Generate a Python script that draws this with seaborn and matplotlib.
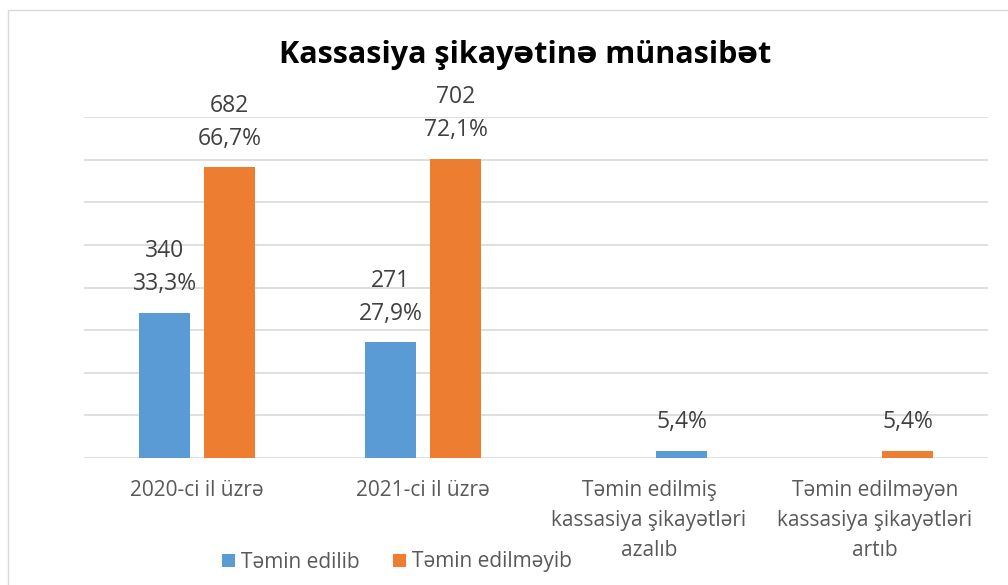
import matplotlib
matplotlib.use("Agg")
import seaborn as sns
import matplotlib.pyplot as plt
import pandas as pd
from matplotlib.patches import Patch, Rectangle

# Kateqoriyalar (x oxu)
categories = [
    "2020-ci il üzrə",
    "2021-ci il üzrə",
    "Təmin edilmiş\nkassasiya şikayətləri\nazalıb",
    "Təmin edilməyən\nkassasiya şikayətləri\nartıb",
]
series_names = ["Təmin edilib", "Təmin edilməyib"]
series_colors = ["#5B9BD5", "#ED7D31"]

# Sütunlar: kateqoriya, seriya, yer (sol/sağ), dəyər, etiket
bar_cat = [categories[0], categories[0], categories[1], categories[1], categories[2], categories[3]]
bar_series = ["Təmin edilib", "Təmin edilməyib", "Təmin edilib", "Təmin edilməyib",
              "Təmin edilib", "Təmin edilməyib"]
bar_slot = ["sol", "sağ", "sol", "sağ", "sağ", "sağ"]
bar_value = [340, 682, 271, 702, 17, 17]
bar_label = ["340\n33,3%", "682\n66,7%", "271\n27,9%", "702\n72,1%", "5,4%", "5,4%"]

df = pd.DataFrame({"kat": bar_cat, "seriya": bar_series, "yer": bar_slot,
                   "deyer": bar_value, "etiket": bar_label})

plt.rcParams["font.family"] = ["Open Sans", "DejaVu Sans"]

fig = plt.figure(figsize=(10.08, 5.85), dpi=100)
ax = fig.add_axes([84 / 1008, 1 - 458 / 585, 904 / 1008, (458 - 117) / 585])

slots = ["sol", "sağ"]
sns.barplot(data=df, x="kat", y="deyer", hue="yer", hue_order=slots, order=categories,
            palette=series_colors, width=0.575, gap=0.22, errorbar=None,
            legend=False, ax=ax)

color_of = dict(zip(series_names, series_colors))
for h, cont in enumerate(ax.containers):
    for bar in cont:
        xc = bar.get_x() + bar.get_width() / 2
        idx = int(round(xc))
        row = df[(df.kat == categories[idx]) & (df.yer == slots[h])]
        if row.empty:
            continue
        row = row.iloc[0]
        bar.set_facecolor(color_of[row.seriya])
        bar.set_edgecolor("none")
        ax.annotate(row.etiket, (xc, bar.get_height()), xytext=(0, 12),
                    textcoords="offset points", ha="center", va="bottom",
                    fontsize=16.5, color="#404040", linespacing=1.5)

ax.set_ylim(0, 800)
ax.set_xlim(-0.5, 3.5)
ax.set_yticks(range(0, 801, 100))
ax.set_yticklabels([])
ax.yaxis.grid(True, color="#D9D9D9", lw=1.2)
ax.set_axisbelow(True)
ax.tick_params(axis="both", length=0)
ax.tick_params(axis="x", pad=16, labelsize=15, labelcolor="#595959")
for lbl in ax.get_xticklabels():
    lbl.set_linespacing(1.55)
for s in ax.spines.values():
    s.set_visible(False)
ax.set_xlabel("")
ax.set_ylabel("")

fig.text(525 / 1008, 1 - 55 / 585, "Kassasiya şikayətinə münasibət",
         ha="center", va="center", fontsize=22, weight="bold", color="black")

handles = [Patch(facecolor=c, edgecolor="none", label=n) for n, c in zip(series_names, series_colors)]
fig.legend(handles=handles, loc="center", bbox_to_anchor=(397 / 1008, 1 - 562 / 585),
           ncol=2, frameon=False, fontsize=15, labelcolor="#595959",
           handlelength=0.6, handleheight=0.6, handletextpad=0.3, columnspacing=1.6)

fig.add_artist(Rectangle((8 / 1008, -0.1), 1.2, 1 - 10 / 585 + 0.1, transform=fig.transFigure,
                         fill=False, edgecolor="#D9D9D9", lw=1))

fig.savefig("out.png", dpi=100)
